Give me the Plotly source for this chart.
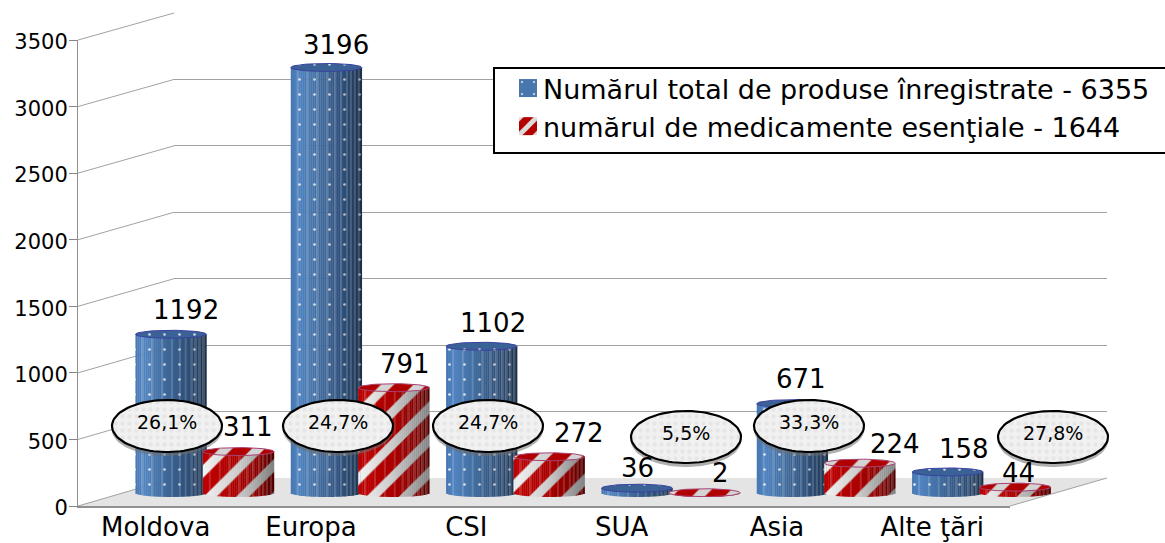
import numpy as np
import plotly.graph_objects as go

# ---------- data ----------
categories = ["Moldova", "Europa", "CSI", "SUA", "Asia", "Alte ţări"]
total_products = [1192, 3196, 1102, 36, 671, 158]
essential_meds = [311, 791, 272, 2, 224, 44]
share_labels = ["26,1%", "24,7%", "24,7%", "5,5%", "33,3%", "27,8%"]
series_names = ["Numărul total de produse înregistrate - 6355",
                "numărul de medicamente esenţiale - 1644"]
y_ticks = [0, 500, 1000, 1500, 2000, 2500, 3000, 3500]

# ---------- layout geometry (pixels) ----------
W, H = 1165, 543
FONT = "DejaVu Sans"
def fx(p): return p / W
def fy(p): return 1 - p / H

FRONT_L, FRONT_R, FRONT_Y0, FRONT_Y1 = 78, 1010, 506, 40
BACK_L, BACK_R, BACK_Y0, BACK_Y1 = 174, 1107, 478, 13
BAR_L, BAR_R = 127, 1059
BAR_ZERO, BAR_TOP = 493, 27
PX_PER_VAL = (BAR_ZERO - BAR_TOP) / 3500
PAD_VAL = 30
PX_PER_CAT = (BAR_R - BAR_L) / 6
BAR_W = 71
BAR_SHIFT = 33.75
N_STRIP = 36
RY = 4.0
FACETS = {3, 8, 13, 18, 22, 25, 28, 30, 32, 34}

def lerp_rgb(stops, t):
    xs = [s[0] for s in stops]
    return [np.interp(t, xs, [int(s[1][1 + 2 * i:3 + 2 * i], 16) for s in stops]) for i in range(3)]

def css(c):
    return "rgb(%d,%d,%d)" % tuple(c)

BLUE_BG = [(0, "#4677b3"), (0.12, "#5184c0"), (0.5, "#3b6393"), (0.8, "#2a4970"), (1, "#1b3049")]
BLUE_FG = [(0, "#e8eef5"), (0.6, "#ccd2da"), (1, "#99a0aa")]
RED_BG = [(0, "#c00000"), (0.5, "#aa0000"), (0.8, "#840000"), (1, "#4c0000")]
RED_FG = [(0, "#f4f4f4"), (0.5, "#cacaca"), (1, "#808080")]

fig = go.Figure()

fig.add_trace(go.Scatter(x=categories, y=[None] * 6, mode="none", showlegend=False,
                         xaxis="x", yaxis="y", hoverinfo="skip"))
fig.add_trace(go.Scatter(x=[0], y=[None], mode="none", showlegend=False,
                         xaxis="x2", yaxis="y2", hoverinfo="skip"))

idx = np.arange(6)

def add_cylinder(values, shift, bg, fg, pat, name):
    for s in range(N_STRIP):
        t = (s + 0.5) / N_STRIP
        px0 = -BAR_W / 2 + s * BAR_W / N_STRIP
        pxc = px0 + BAR_W / N_STRIP / 2
        depth = RY * np.sqrt(max(0, 1 - (pxc / (BAR_W / 2)) ** 2)) / PX_PER_VAL
        rgb = lerp_rgb(bg, t)
        if s in FACETS:
            rgb = [c + (255 - c) * 0.16 for c in rgb]
        col = css(rgb)
        fig.add_trace(go.Bar(
            x=idx, y=[v + depth for v in values], base=[-depth] * 6,
            width=(BAR_W / N_STRIP + 0.3) / PX_PER_CAT,
            offset=(shift + px0) / PX_PER_CAT,
            marker=dict(color=col, line=dict(width=0),
                        pattern=dict(shape=pat["shape"], size=pat["size"], solidity=pat["solidity"],
                                     fgcolor=css(lerp_rgb(fg, t)), bgcolor=col, fillmode="replace")),
            name=name, showlegend=(s == N_STRIP // 4), legendgroup=name,
            xaxis="x3", yaxis="y3", hoverinfo="skip"))

BLUE_PAT = dict(shape=".", size=15, solidity=0.025)
RED_PAT = dict(shape="/", size=23, solidity=0.4)
add_cylinder(total_products, -BAR_SHIFT, BLUE_BG, BLUE_FG, BLUE_PAT, series_names[0])
add_cylinder(essential_meds, BAR_SHIFT, RED_BG, RED_FG, RED_PAT, series_names[1])

def tops(values, shift):
    th = np.linspace(0, 2 * np.pi, 61)
    xs, ys = [], []
    for i, v in enumerate(values):
        xs += list(i + (shift + BAR_W / 2 * np.cos(th)) / PX_PER_CAT) + [None]
        ys += list(v + RY * np.sin(th) / PX_PER_VAL) + [None]
    return xs, ys

for vals, shift, line, fc, pat, fpc in [
    (total_products, -BAR_SHIFT, "#3a40a0", "#3b6296", BLUE_PAT, "#d0d6de"),
    (essential_meds, BAR_SHIFT, "#a84272", "#b00000", RED_PAT, "#d4d4d4"),
]:
    xs, ys = tops(vals, shift)
    fig.add_trace(go.Scatter(x=xs, y=ys, mode="lines", fill="toself", fillcolor=fc,
                             line=dict(color=line, width=1),
                             fillpattern=dict(shape=pat["shape"], size=pat["size"], solidity=pat["solidity"],
                                              fgcolor=fpc, bgcolor=fc, fillmode="replace"),
                             showlegend=False, xaxis="x3", yaxis="y3", hoverinfo="skip"))

CALL_X = [167, 338, 488, 686, 809, 1053]
CALL_Y = [426, 426, 426, 437, 426, 437]
CALL_RX, CALL_RY = 55, 26
th = np.linspace(0, 2 * np.pi, 91)
for cx, cy in zip(CALL_X, CALL_Y):
    fig.add_trace(go.Scatter(x=cx + CALL_RX * np.cos(th), y=cy + 4 + CALL_RY * np.sin(th),
                             mode="lines", fill="toself", fillcolor="rgba(110,110,110,0.55)",
                             line=dict(width=0), showlegend=False,
                             xaxis="x4", yaxis="y4", hoverinfo="skip"))
    fig.add_trace(go.Scatter(x=cx + CALL_RX * np.cos(th), y=cy + CALL_RY * np.sin(th),
                             mode="lines", fill="toself", fillcolor="#efefef",
                             fillpattern=dict(shape=".", size=7, solidity=0.3, fgcolor="#e6e6e6",
                                              bgcolor="#f1f1f1", fillmode="replace"),
                             line=dict(color="black", width=2.2), showlegend=False,
                             xaxis="x4", yaxis="y4", hoverinfo="skip"))

ann = []
for cx, cy, t in zip(CALL_X, CALL_Y, share_labels):
    ann.append(dict(x=cx, y=cy - 4.5, xref="x4", yref="y4", text=t, showarrow=False,
                    font=dict(family=FONT, size=19, color="black"), xanchor="center", yanchor="middle"))

BLUE_DX = [15, 10, 11, 1, 9, 16]
BLUE_DY = [24, 22, 23, 20, 25, 23]
RED_DX = [10, 11, 30, 16, 35, 3]
RED_DY = [25, 24, 24, 20, 19, 14]
for vals, shift, dxs, dys in [(total_products, -BAR_SHIFT, BLUE_DX, BLUE_DY),
                              (essential_meds, BAR_SHIFT, RED_DX, RED_DY)]:
    for i, v in enumerate(vals):
        ann.append(dict(x=i + shift / PX_PER_CAT, y=v, xref="x3", yref="y3", text=str(v), showarrow=False,
                        xshift=dxs[i], yshift=dys[i],
                        font=dict(family=FONT, size=26, color="black"), xanchor="center", yanchor="middle"))

GRID = "#a2a2a2"
shapes = [dict(type="path", xref="paper", yref="paper", layer="below",
               path=f"M {fx(FRONT_L)} {fy(FRONT_Y0)} L {fx(BACK_L)} {fy(BACK_Y0)} L {fx(BACK_R)} {fy(BACK_Y0)} "
                    f"L {fx(FRONT_R)} {fy(FRONT_Y0)} Z",
               fillcolor="#e4e4e4", line=dict(width=0)),
          dict(type="line", xref="paper", yref="paper", layer="below",
               x0=fx(FRONT_R), y0=fy(FRONT_Y0), x1=fx(BACK_R), y1=fy(BACK_Y0), line=dict(color=GRID, width=1))]
for v in y_ticks:
    y_f = FRONT_Y0 - v * (FRONT_Y0 - FRONT_Y1) / 3500
    y_b = BACK_Y0 - v * (BACK_Y0 - BACK_Y1) / 3500
    shapes.append(dict(type="line", xref="paper", yref="paper", layer="below",
                       x0=fx(FRONT_L), y0=fy(y_f), x1=fx(BACK_L), y1=fy(y_b), line=dict(color=GRID, width=1)))

fig.update_layout(
    width=W, height=H, margin=dict(l=0, r=0, t=0, b=0, autoexpand=False),
    paper_bgcolor="white", plot_bgcolor="rgba(0,0,0,0)", barmode="overlay", hovermode=False,
    font=dict(family=FONT, color="black"),
    shapes=shapes, annotations=ann,
    legend=dict(x=fx(493), y=fy(62), xanchor="left", yanchor="top", bgcolor="white",
                bordercolor="black", borderwidth=2, font=dict(family=FONT, size=27),
                itemwidth=38, tracegroupgap=0, traceorder="normal",
                entrywidth=680, entrywidthmode="pixels"),
    xaxis=dict(domain=[fx(FRONT_L), fx(FRONT_R)], type="category", categoryorder="array",
               categoryarray=categories, range=[-0.5, 5.5], tickmode="array", tickvals=categories,
               ticktext=categories, tickfont=dict(family=FONT, size=26, color="black"),
               ticks="", ticklabelstandoff=-3, showline=True, linecolor="#909090",
               linewidth=1.5, showgrid=False, zeroline=False, anchor="y", fixedrange=True, automargin=False),
    yaxis=dict(domain=[fy(FRONT_Y0), fy(FRONT_Y1)], range=[0, 3500], tickmode="array", tickvals=y_ticks,
               tickfont=dict(family=FONT, size=21, color="black"), ticks="outside", ticklen=8,
               ticklabelstandoff=-3, ticklabelshift=2,
               tickcolor="#868686", showline=True, linecolor="#909090", linewidth=1, showgrid=False,
               zeroline=False, anchor="x", fixedrange=True, automargin=False),
    xaxis2=dict(domain=[fx(BACK_L), fx(BACK_R)], range=[0, 1], visible=False, anchor="y2", automargin=False),
    yaxis2=dict(domain=[fy(BACK_Y0), fy(BACK_Y1)], range=[0, 3500], tickmode="array", tickvals=y_ticks,
                showticklabels=False, ticks="", showgrid=True, gridcolor=GRID, gridwidth=1, showline=False,
                zeroline=False, anchor="x2", automargin=False),
    xaxis3=dict(domain=[fx(BAR_L), fx(BAR_R)], range=[-0.5, 5.5], visible=False, anchor="y3", automargin=False),
    yaxis3=dict(domain=[fy(BAR_ZERO + PAD_VAL * PX_PER_VAL), fy(BAR_TOP)], range=[-PAD_VAL, 3500],
                visible=False, anchor="x3", automargin=False),
    xaxis4=dict(domain=[0, 1], range=[0, W], visible=False, anchor="y4", automargin=False),
    yaxis4=dict(domain=[0, 1], range=[H, 0], visible=False, anchor="x4", automargin=False),
)

post = """
document.body.style.margin='0';
document.body.style.overflow='hidden';
document.querySelectorAll('pattern').forEach(function(p){
  if(p.querySelector('circle') && p.getAttribute('width')==='15'){p.setAttribute('patternTransform','rotate(45)');}
});
document.querySelectorAll('.legend .legendbar path, .legend .legendpoints path').forEach(function(p){
  p.setAttribute('transform','translate(33,0) scale(1.5)');
});
var bg=document.querySelector('.legend rect.bg');
if(bg){
  var y=parseFloat(bg.getAttribute('y')||'0'), h=parseFloat(bg.getAttribute('height')), w=parseFloat(bg.getAttribute('width'));
  bg.setAttribute('y', y+5); bg.setAttribute('height', h-4); bg.setAttribute('width', w+40);
}
"""
fig.write_html("out.html", post_script=post, config=dict(displayModeBar=False))
